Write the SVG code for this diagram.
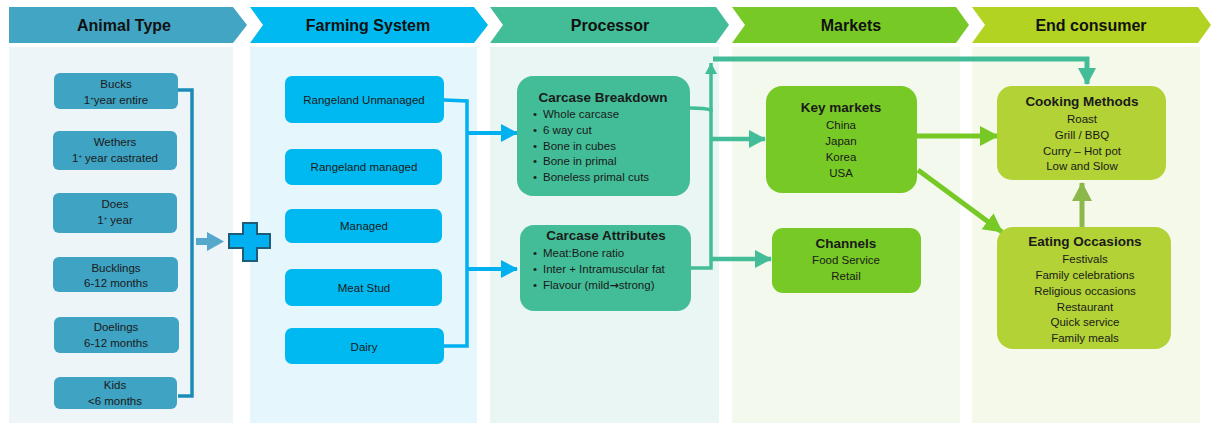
<svg xmlns="http://www.w3.org/2000/svg" width="1211" height="423" viewBox="0 0 1211 423">
<style>
text{font-family:"Liberation Sans",Arial,sans-serif;fill:#1a1a1a;text-anchor:middle}
.h{font-size:16px;font-weight:bold;fill:#111}
.t{font-size:11.5px}
.b{font-size:13.5px;font-weight:bold}
.l{text-anchor:start}
.sup{font-size:6px}
.arr{font-family:"DejaVu Sans",sans-serif;font-weight:bold;font-size:11px}
.an{fill:#3FA3C3}
.fa{fill:#00B9F0}
.pr{fill:#43BD97}
.mk{fill:#77C925}
.ec{fill:#B2D236}
</style>
<defs>
<marker id="mBlue" markerUnits="userSpaceOnUse" markerWidth="18" markerHeight="20" refX="16" refY="10" orient="auto"><path d="M0,1 L17,10 L0,19 Z" fill="#00B0F0"/></marker>
<marker id="mTeal" markerUnits="userSpaceOnUse" markerWidth="18" markerHeight="20" refX="16" refY="10" orient="auto"><path d="M0,1 L17,10 L0,19 Z" fill="#43BD97"/></marker>
<marker id="mTealS" markerUnits="userSpaceOnUse" markerWidth="12" markerHeight="12" refX="11" refY="6" orient="auto"><path d="M0,0 L11,6 L0,12 Z" fill="#43BD97"/></marker>
<marker id="mGreen" markerUnits="userSpaceOnUse" markerWidth="20" markerHeight="22" refX="18" refY="11" orient="auto"><path d="M0,1 L19,11 L0,21 Z" fill="#77C925"/></marker>
<marker id="mOlive" markerUnits="userSpaceOnUse" markerWidth="20" markerHeight="22" refX="18" refY="11" orient="auto"><path d="M0,1 L19,11 L0,21 Z" fill="#8BB84A"/></marker>
</defs>
<rect width="1211" height="423" fill="#ffffff"/>
<g id="panels">
<rect x="9" y="47" width="224" height="376" fill="#EEF5F9"/>
<rect x="250" y="47" width="227" height="376" fill="#E6F6FD"/>
<rect x="490" y="47" width="229" height="376" fill="#EAF6F3"/>
<rect x="732" y="47" width="228" height="376" fill="#F3F9EC"/>
<rect x="972" y="47" width="228" height="376" fill="#F5F9EA"/>
</g>
<g id="headers">
<polygon points="9,7 233,7 247,25 233,43 9,43" fill="#42A5C4"/>
<polygon points="250,7 474,7 488,25 474,43 250,43 263,25" fill="#00B9F0"/>
<polygon points="490,7 716,7 729,25 716,43 490,43 503,25" fill="#43BD97"/>
<polygon points="732,7 956,7 969,25 956,43 732,43 745,25" fill="#77C925"/>
<polygon points="972,7 1198,7 1211,25 1198,43 972,43 985,25" fill="#B2D322"/>
<text class="h" x="124" y="31">Animal Type</text>
<text class="h" x="368" y="31">Farming System</text>
<text class="h" x="610" y="31">Processor</text>
<text class="h" x="851" y="31">Markets</text>
<text class="h" x="1091" y="31">End consumer</text>
</g>
<g id="connectors" fill="none">
<path d="M178,90 L192,90 L192,396 L178,396" stroke="#1C8CB6" stroke-width="3.5"/>
<path d="M196,241.5 L208,241.5" stroke="#55A8CB" stroke-width="7"/>
<polygon points="207,232 224,241.5 207,251" fill="#55A8CB"/>
<path d="M444,100 L467,101 L467,346 L444,346" stroke="#00B0F0" stroke-width="3.5"/>
<path d="M467,133 L517,133" stroke="#00B0F0" stroke-width="4" marker-end="url(#mBlue)"/>
<path d="M467,269 L517,269" stroke="#00B0F0" stroke-width="4" marker-end="url(#mBlue)"/>
<path d="M690,108 Q705,108 711,110 L711,268 L691,268" stroke="#43BD97" stroke-width="3.5"/>
<path d="M711,112 L711,63" stroke="#43BD97" stroke-width="3.5" marker-end="url(#mTealS)"/>
<path d="M711,139 L765,139" stroke="#43BD97" stroke-width="4.5" marker-end="url(#mTeal)"/>
<path d="M711,259 L771,259" stroke="#43BD97" stroke-width="4.5" marker-end="url(#mTeal)"/>
<path d="M713,59 L1087,59 L1087,84" stroke="#43BD97" stroke-width="5" marker-end="url(#mTeal)"/>
<path d="M917,136 L998,136" stroke="#77C925" stroke-width="5" marker-end="url(#mGreen)"/>
<path d="M918,170 L1002,232" stroke="#77C925" stroke-width="5" marker-end="url(#mGreen)"/>
<path d="M1082,227 L1082,183" stroke="#8BB84A" stroke-width="5" marker-end="url(#mOlive)"/>
</g>
<g id="plus">
<path d="M243,223 H257 V234 H270 V248 H257 V261 H243 V248 H229 V234 H243 Z" fill="#00B0F0" stroke="#1F5C7A" stroke-width="2"/>
</g>
<g id="bucks"><rect class="an" x="54" y="73" width="124" height="36" rx="6"/><text class="t" x="116" y="88">Bucks</text><text class="t" x="116" y="104">1<tspan class="sup" dy="-4">+</tspan><tspan dy="4">year entire</tspan></text></g>
<g id="wethers"><rect class="an" x="53" y="131" width="124" height="39" rx="6"/><text class="t" x="115" y="146">Wethers</text><text class="t" x="115" y="162">1<tspan class="sup" dy="-4">+</tspan><tspan dy="4"> year castrated</tspan></text></g>
<g id="does"><rect class="an" x="53" y="193" width="124" height="40" rx="6"/><text class="t" x="115" y="208">Does</text><text class="t" x="115" y="224">1<tspan class="sup" dy="-4">+</tspan><tspan dy="4"> year</tspan></text></g>
<g id="bucklings"><rect class="an" x="53" y="257" width="125" height="35" rx="6"/><text class="t" x="116" y="272">Bucklings</text><text class="t" x="116" y="287">6-12 months</text></g>
<g id="doelings"><rect class="an" x="54" y="317" width="125" height="36" rx="6"/><text class="t" x="116" y="331">Doelings</text><text class="t" x="116" y="347">6-12 months</text></g>
<g id="kids"><rect class="an" x="54" y="377" width="123" height="32" rx="6"/><text class="t" x="115" y="389">Kids</text><text class="t" x="115" y="405">&lt;6 months</text></g>
<g id="rangeland-unmanaged"><rect class="fa" x="285" y="76" width="159" height="47" rx="7"/><text class="t" x="364" y="104">Rangeland Unmanaged</text></g>
<g id="rangeland-managed"><rect class="fa" x="285" y="149" width="157" height="36" rx="7"/><text class="t" x="364" y="171">Rangeland managed</text></g>
<g id="managed"><rect class="fa" x="285" y="209" width="157" height="34" rx="7"/><text class="t" x="364" y="230">Managed</text></g>
<g id="meat-stud"><rect class="fa" x="285" y="269" width="157" height="37" rx="7"/><text class="t" x="364" y="292">Meat Stud</text></g>
<g id="dairy"><rect class="fa" x="285" y="328" width="159" height="36" rx="7"/><text class="t" x="364" y="351">Dairy</text></g>
<g id="carcase-breakdown"><rect class="pr" x="517" y="76" width="173" height="120" rx="16"/>
<text class="b" x="603" y="102">Carcase Breakdown</text>
<text class="t l" x="533" y="118">•</text><text class="t l" x="543" y="118">Whole carcase</text>
<text class="t l" x="533" y="134">•</text><text class="t l" x="543" y="134">6 way cut</text>
<text class="t l" x="533" y="150">•</text><text class="t l" x="543" y="150">Bone in cubes</text>
<text class="t l" x="533" y="165">•</text><text class="t l" x="543" y="165">Bone in primal</text>
<text class="t l" x="533" y="181">•</text><text class="t l" x="543" y="181">Boneless primal cuts</text>
</g>
<g id="carcase-attributes"><rect class="pr" x="520" y="225" width="171" height="86" rx="14"/>
<text class="b" x="606" y="240">Carcase Attributes</text>
<text class="t l" x="533" y="257">•</text><text class="t l" x="543" y="257">Meat:Bone ratio</text>
<text class="t l" x="533" y="273">•</text><text class="t l" x="543" y="273">Inter + Intramuscular fat</text>
<text class="t l" x="533" y="289">•</text><text class="t l" x="543" y="289">Flavour (mild<tspan class="arr">→</tspan>strong)</text>
</g>
<g id="key-markets"><rect class="mk" x="766" y="86" width="151" height="107" rx="16"/>
<text class="b" x="841" y="112">Key markets</text>
<text class="t" x="841" y="129">China</text>
<text class="t" x="841" y="145">Japan</text>
<text class="t" x="841" y="161">Korea</text>
<text class="t" x="841" y="177">USA</text>
</g>
<g id="channels"><rect class="mk" x="772" y="228" width="149" height="65" rx="11"/>
<text class="b" x="846" y="248">Channels</text>
<text class="t" x="846" y="264">Food Service</text>
<text class="t" x="846" y="280">Retail</text>
</g>
<g id="cooking-methods"><rect class="ec" x="997" y="86" width="169" height="94" rx="15"/>
<text class="b" x="1082" y="106">Cooking Methods</text>
<text class="t" x="1082" y="123">Roast</text>
<text class="t" x="1082" y="139">Grill / BBQ</text>
<text class="t" x="1082" y="155">Curry – Hot pot</text>
<text class="t" x="1082" y="170">Low and Slow</text>
</g>
<g id="eating-occasions"><rect class="ec" x="997" y="227" width="174" height="122" rx="16"/>
<text class="b" x="1085" y="246">Eating Occasions</text>
<text class="t" x="1085" y="263">Festivals</text>
<text class="t" x="1085" y="279">Family celebrations</text>
<text class="t" x="1085" y="295">Religious occasions</text>
<text class="t" x="1085" y="311">Restaurant</text>
<text class="t" x="1085" y="326">Quick service</text>
<text class="t" x="1085" y="342">Family meals</text>
</g>
</svg>
